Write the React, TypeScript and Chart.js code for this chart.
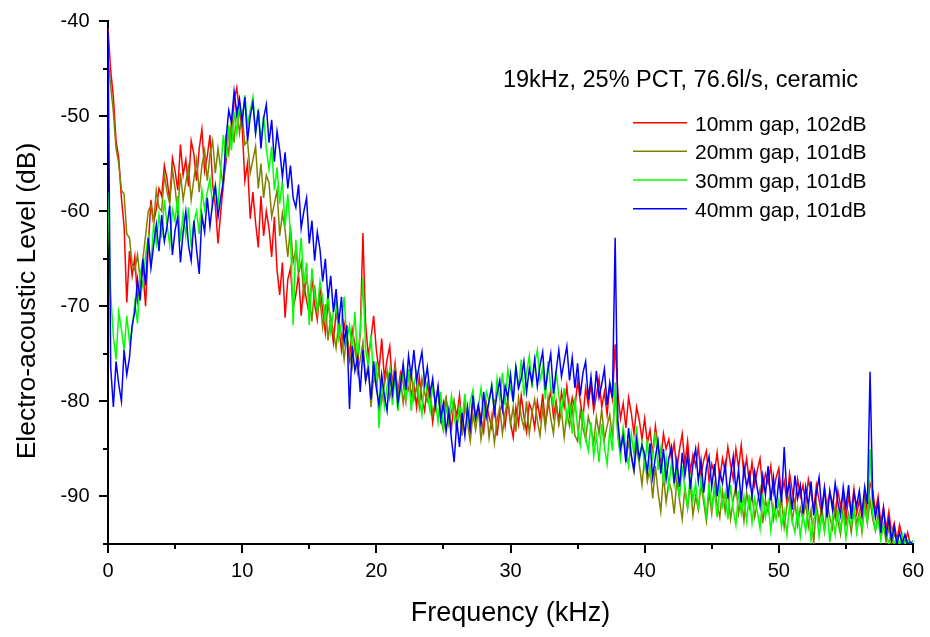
import React, { useEffect, useRef } from "react";
import { Chart, registerables } from "chart.js";

Chart.register(...registerables);

// Sample grid of the spectra (kHz): 0 … 60 kHz every 0.2 kHz
const FREQ_STEP_KHZ = 0.2;
const FREQ_POINTS = 301;
const FREQ_KHZ: number[] = Array.from({ length: FREQ_POINTS }, (_, i) => Math.round(i * FREQ_STEP_KHZ * 10) / 10);

// Tick values
const X_TICKS_KHZ = [0, 5, 10, 15, 20, 25, 30, 35, 40, 45, 50, 55, 60];
const Y_TICKS_DB = [-95, -90, -85, -80, -75, -70, -65, -60, -55, -50, -45, -40];

const ANNOTATION = "19kHz, 25% PCT, 76.6l/s, ceramic";
const X_TITLE = "Frequency (kHz)";
const Y_TITLE = "Electro-acoustic Level (dB)";

const LABELS = ["10mm gap, 102dB", "20mm gap, 101dB", "30mm gap, 101dB", "40mm gap, 101dB"];
const COLORS = ["#ff0000", "#808000", "#00ff00", "#0000ff"];

// Electro-acoustic level (dB), one value per FREQ_KHZ sample (10 values = 2 kHz per line)
const LEVEL_10MM = [
  -40.8, -45.2, -48.0, -52.6, -54.4, -58.6, -61.6, -69.6, -64.2, -66.8,
  -64.8, -69.4, -67.6, -66.0, -70.0, -63.8, -58.8, -61.2, -59.8, -57.6,
  -58.4, -55.2, -56.6, -59.0, -54.4, -55.8, -57.8, -53.0, -56.2, -54.6,
  -57.4, -52.6, -54.0, -56.8, -53.4, -51.4, -55.8, -54.2, -52.0, -57.2,
  -59.4, -63.4, -60.2, -57.0, -54.8, -51.4, -52.6, -48.4, -47.0, -49.6,
  -51.2, -56.8, -55.0, -60.8, -58.0, -61.2, -63.8, -58.4, -62.6, -60.0,
  -61.8, -64.8, -60.6, -66.2, -68.8, -65.4, -71.2, -67.2, -66.0, -70.2,
  -68.8, -66.6, -71.0, -67.6, -69.4, -70.8, -66.8, -69.8, -71.4, -68.0,
  -70.4, -72.8, -69.6, -71.6, -73.8, -70.6, -72.2, -74.6, -71.8, -73.4,
  -75.6, -72.4, -74.0, -76.2, -72.8, -62.3, -71.8, -75.2, -73.4, -71.0,
  -74.6, -76.8, -73.4, -77.6, -75.6, -74.2, -78.4, -76.0, -79.2, -77.0,
  -78.0, -80.0, -76.6, -79.4, -78.2, -80.6, -77.4, -79.8, -81.0, -78.2,
  -79.6, -82.2, -80.0, -78.6, -81.8, -83.0, -79.8, -81.2, -82.8, -80.0,
  -81.6, -79.4, -82.8, -80.6, -81.4, -83.4, -79.8, -82.0, -80.4, -81.8,
  -83.2, -80.2, -81.6, -82.8, -79.8, -83.6, -81.0, -80.4, -82.6, -80.0,
  -82.2, -83.8, -80.6, -82.4, -79.4, -81.6, -83.2, -80.2, -81.0, -82.8,
  -80.0, -81.8, -79.2, -82.4, -80.6, -78.8, -81.6, -80.0, -82.2, -79.0,
  -80.6, -78.4, -81.4, -79.6, -80.8, -77.8, -80.0, -81.8, -78.6, -80.4,
  -78.2, -81.0, -79.4, -77.6, -80.6, -79.0, -81.4, -78.4, -79.8, -74.0,
  -79.0, -81.8, -80.2, -82.8, -79.6, -81.2, -83.4, -80.6, -82.0, -84.0,
  -81.8, -84.4, -83.0, -85.6, -82.6, -84.8, -86.2, -83.4, -85.0, -84.0,
  -86.0, -84.4, -87.2, -85.0, -83.4, -86.6, -84.2, -87.4, -85.6, -86.8,
  -84.8, -87.8, -86.2, -85.2, -88.4, -86.6, -87.6, -85.4, -88.2, -86.0,
  -87.4, -84.8, -86.6, -88.2, -85.0, -87.0, -84.6, -87.8, -86.0, -88.6,
  -86.4, -88.8, -87.2, -86.0, -89.4, -87.6, -88.6, -86.8, -89.6, -88.0,
  -87.0, -89.8, -88.4, -90.6, -87.6, -89.4, -91.0, -88.2, -90.0, -88.8,
  -90.8, -88.2, -89.6, -91.4, -88.8, -90.4, -92.0, -89.0, -91.2, -89.6,
  -90.6, -92.2, -89.4, -91.0, -89.8, -92.4, -90.0, -91.6, -89.2, -91.8,
  -90.4, -92.2, -89.8, -91.6, -88.6, -89.4, -91.6, -90.0, -92.8, -91.2,
  -93.4, -91.6, -93.8, -92.8, -94.6, -93.0, -94.2, -95.0, -93.8, -95.0,
  -95.0,
];

const LEVEL_20MM = [
  -44.0, -46.8, -49.6, -53.4, -55.0, -57.8, -58.2, -62.4, -62.8, -65.6,
  -66.2, -64.6, -67.2, -65.0, -62.6, -60.0, -59.4, -61.2, -57.8, -59.6,
  -60.0, -56.2, -58.0, -59.2, -55.6, -57.6, -60.2, -56.0, -58.8, -57.0,
  -55.4, -58.8, -56.6, -54.6, -58.0, -55.2, -53.6, -56.8, -54.0, -52.6,
  -56.0, -53.4, -55.6, -57.4, -52.4, -54.0, -50.4, -52.8, -49.0, -51.8,
  -49.8, -53.0, -52.6, -56.0, -54.6, -53.2, -57.6, -55.0, -58.6, -56.2,
  -57.0, -60.6, -59.2, -57.8, -62.6, -60.2, -62.0, -64.8, -61.6, -65.4,
  -64.0, -66.6, -65.4, -69.0, -67.0, -68.8, -71.6, -67.8, -70.8, -69.2,
  -72.2, -69.8, -73.6, -71.0, -72.6, -74.4, -71.6, -73.0, -75.6, -72.8,
  -74.8, -76.4, -73.8, -77.0, -75.6, -73.8, -77.8, -76.0, -80.6, -77.4,
  -78.4, -76.6, -80.0, -78.2, -76.8, -79.6, -78.0, -76.4, -79.4, -77.6,
  -80.2, -78.0, -78.8, -76.8, -79.8, -78.4, -80.6, -77.6, -79.2, -80.0,
  -78.8, -81.4, -80.0, -78.8, -82.0, -80.6, -79.6, -82.4, -81.0, -80.0,
  -82.6, -81.0, -83.6, -80.2, -82.4, -84.2, -81.4, -83.0, -80.8, -84.0,
  -82.0, -80.4, -83.8, -81.6, -84.4, -82.0, -80.6, -83.4, -81.2, -79.8,
  -82.4, -80.6, -83.2, -79.6, -81.6, -82.8, -80.0, -83.4, -81.2, -79.8,
  -82.0, -83.6, -80.6, -82.8, -79.6, -81.8, -83.4, -80.4, -82.4, -81.0,
  -83.8, -81.2, -82.6, -80.6, -83.6, -84.2, -81.0, -82.8, -84.0, -81.6,
  -82.8, -84.4, -81.6, -83.4, -80.8, -84.0, -82.6, -81.4, -83.8, -79.0,
  -83.6, -85.6, -82.8, -86.2, -84.4, -85.8, -87.4, -84.8, -86.6, -88.8,
  -85.8, -88.4, -87.0, -90.2, -86.8, -89.6, -91.6, -87.8, -90.6, -88.4,
  -89.4, -91.8, -88.2, -90.4, -92.4, -89.0, -91.2, -88.6, -92.0, -90.0,
  -91.4, -88.8, -90.6, -92.6, -89.6, -91.8, -88.8, -90.8, -92.2, -89.4,
  -91.6, -89.2, -92.4, -90.4, -88.8, -91.8, -90.0, -92.6, -89.6, -91.2,
  -89.8, -92.2, -90.6, -89.2, -92.8, -90.4, -91.6, -89.6, -92.4, -90.8,
  -92.0, -90.2, -93.2, -91.0, -89.8, -92.6, -90.6, -93.0, -91.2, -92.4,
  -90.6, -93.2, -91.4, -95.0, -90.8, -92.8, -91.0, -93.6, -90.6, -92.2,
  -93.4, -91.0, -92.6, -94.0, -91.2, -93.0, -91.8, -93.8, -91.4, -92.8,
  -91.6, -93.8, -90.6, -92.8, -90.4, -92.4, -93.6, -91.8, -94.2, -93.0,
  -94.8, -93.2, -95.0, -94.0, -94.6, -95.0, -94.2, -95.0, -94.6, -95.0,
  -95.0,
];

const LEVEL_30MM = [
  -58.0, -68.6, -73.2, -75.6, -70.6, -72.4, -74.6, -71.0, -73.8, -72.4,
  -69.6, -71.8, -66.4, -68.0, -64.6, -62.8, -65.8, -61.4, -63.4, -60.4,
  -62.8, -58.8, -61.4, -63.6, -59.8, -61.0, -58.4, -63.2, -60.2, -62.6,
  -59.6, -63.8, -61.2, -60.0, -62.4, -57.8, -59.8, -58.0, -56.6, -59.4,
  -57.2, -59.6, -55.6, -52.0, -54.4, -51.0, -53.6, -49.6, -51.8, -48.8,
  -50.4, -47.8, -51.0, -49.4, -48.0, -51.8, -49.2, -52.6, -50.0, -53.4,
  -55.6, -53.2, -57.8, -55.4, -59.2, -56.8, -61.6, -58.2, -62.4, -72.0,
  -63.0, -66.2, -62.8, -67.6, -65.4, -72.0, -66.0, -68.8, -70.4, -67.4,
  -69.2, -71.6, -68.4, -72.6, -70.6, -69.4, -73.4, -71.8, -69.0, -73.6,
  -72.0, -74.6, -70.6, -75.4, -72.8, -67.0, -74.6, -76.4, -73.0, -77.8,
  -75.8, -82.8, -77.6, -80.6, -78.4, -76.6, -80.4, -77.2, -81.0, -78.6,
  -77.0, -80.0, -76.6, -81.0, -78.2, -77.0, -79.8, -81.4, -77.4, -79.2,
  -81.0, -78.4, -80.0, -82.2, -79.0, -83.2, -80.6, -82.0, -79.4, -81.8,
  -83.0, -80.4, -81.8, -79.2, -82.6, -80.0, -78.8, -82.0, -80.6, -78.6,
  -81.6, -79.0, -80.0, -78.2, -81.2, -77.6, -79.8, -77.0, -80.4, -76.6,
  -78.6, -80.0, -76.2, -78.8, -75.6, -79.4, -77.0, -75.2, -78.6, -76.0,
  -74.6, -77.8, -76.4, -79.8, -75.8, -78.6, -80.6, -76.8, -79.4, -81.2,
  -78.6, -82.0, -80.0, -83.4, -79.6, -82.8, -84.6, -81.0, -83.8, -85.2,
  -82.2, -85.8, -83.6, -86.4, -82.4, -84.8, -86.6, -83.0, -85.2, -78.0,
  -83.6, -86.0, -82.8, -85.0, -86.8, -83.4, -85.6, -82.6, -86.2, -84.4,
  -86.8, -84.0, -88.0, -85.6, -83.2, -87.2, -85.0, -88.6, -86.0, -89.0,
  -86.4, -88.8, -87.0, -90.2, -86.8, -89.4, -91.2, -87.6, -90.4, -88.6,
  -91.4, -88.2, -90.0, -92.0, -88.6, -91.2, -89.4, -92.2, -88.8, -91.0,
  -89.6, -92.4, -88.8, -91.4, -93.0, -89.4, -91.8, -90.0, -92.6, -89.8,
  -92.8, -90.2, -91.6, -93.4, -89.8, -92.2, -90.6, -93.6, -91.0, -92.4,
  -90.4, -93.2, -91.6, -94.0, -90.8, -92.6, -93.8, -91.2, -94.2, -92.0,
  -93.6, -91.0, -94.6, -92.4, -91.6, -94.2, -92.0, -93.6, -91.4, -94.8,
  -92.2, -94.0, -91.4, -93.4, -91.8, -94.4, -92.2, -93.0, -91.2, -93.8,
  -92.0, -93.4, -91.2, -92.8, -85.0, -91.8, -93.6, -92.4, -94.6, -93.0,
  -94.0, -95.0, -93.4, -95.0, -94.4, -95.0, -94.0, -95.0, -94.6, -95.0,
  -94.6,
];

const LEVEL_40MM = [
  -41.0, -76.4, -80.6, -75.8, -78.2, -80.0, -74.6, -77.2, -75.4, -72.0,
  -70.6, -67.2, -69.4, -65.0, -67.8, -62.8, -66.0, -63.6, -61.4, -64.2,
  -60.4, -63.2, -61.6, -59.4, -64.6, -62.0, -60.6, -65.4, -62.2, -60.0,
  -63.6, -65.2, -61.0, -64.0, -66.6, -60.4, -62.2, -58.6, -61.6, -59.0,
  -57.4, -60.6, -58.6, -56.8, -52.4, -49.4, -50.6, -47.4, -49.8, -48.2,
  -50.6, -48.0, -52.6, -50.0, -48.6, -51.8, -49.4, -53.4, -50.2, -48.8,
  -52.8, -50.4, -54.8, -51.6, -53.6, -56.4, -53.8, -57.6, -55.2, -58.6,
  -59.6, -57.2, -61.8, -60.0, -58.6, -63.4, -61.0, -65.2, -62.2, -64.0,
  -67.4, -65.0, -69.2, -66.8, -70.6, -68.2, -71.8, -69.0, -73.8, -72.0,
  -80.8, -74.2, -76.8, -75.4, -79.0, -74.6, -77.8, -76.6, -79.8, -75.8,
  -78.6, -80.4, -77.2, -79.4, -81.0, -77.0, -79.2, -76.8, -80.2, -78.4,
  -76.0, -78.8, -75.2, -77.4, -74.6, -77.8, -76.2, -74.8, -78.2, -76.4,
  -79.2, -77.6, -80.6, -78.4, -81.8, -80.2, -83.2, -81.0, -84.0, -86.4,
  -82.0, -84.8, -81.2, -83.6, -80.6, -82.8, -79.4, -81.8, -80.4, -82.4,
  -79.0, -81.6, -80.0, -78.4, -81.2, -79.2, -77.8, -80.8, -78.4, -79.6,
  -77.2, -80.0, -76.4, -78.6, -77.6, -75.8, -79.0, -76.6, -78.0, -75.6,
  -78.4, -76.2, -74.8, -78.8, -76.6, -75.0, -79.2, -76.8, -74.6, -77.4,
  -75.8, -74.2, -77.8, -75.4, -78.6, -76.0, -79.4, -77.0, -75.8, -79.8,
  -77.4, -80.4, -76.8, -79.6, -78.2, -76.6, -80.4, -78.0, -79.6, -62.8,
  -82.0, -85.0, -83.6, -86.4, -82.8, -85.6, -87.2, -84.0, -86.0, -84.6,
  -85.6, -87.4, -84.4, -88.0, -85.8, -84.2, -87.6, -85.0, -88.2, -86.0,
  -84.8, -88.6, -86.2, -89.0, -85.4, -87.8, -85.6, -89.2, -86.6, -85.0,
  -88.4, -86.2, -89.6, -87.0, -85.8, -89.0, -86.6, -90.0, -87.4, -88.6,
  -86.6, -90.2, -87.8, -85.8, -89.4, -87.2, -90.6, -86.8, -89.0, -87.6,
  -90.0, -87.4, -89.2, -91.0, -87.8, -89.8, -86.8, -90.4, -88.0, -91.2,
  -88.2, -90.6, -84.8, -89.8, -88.6, -91.4, -87.8, -90.2, -88.8, -91.8,
  -89.0, -91.0, -88.4, -92.0, -89.6, -88.0, -91.4, -89.2, -92.2, -89.4,
  -91.4, -88.6, -90.6, -92.0, -89.0, -91.2, -88.8, -92.4, -89.6, -91.0,
  -89.4, -91.8, -89.0, -90.8, -76.9, -90.2, -92.2, -90.6, -93.8, -91.2,
  -94.0, -92.4, -94.6, -93.2, -95.0, -93.8, -95.0, -94.0, -95.0, -94.8,
  -95.0,
];

const SERIES_VALUES = [LEVEL_10MM, LEVEL_20MM, LEVEL_30MM, LEVEL_40MM];

const FONT = "'Liberation Sans', Arial, Helvetica, sans-serif";

const overlayPlugin = {
  id: "overlay",
  afterDraw(chart: any) {
    const { ctx, scales } = chart;
    const xs = scales.x;
    const ys = scales.y;
    const left = chart.chartArea.left;
    const bottom = chart.chartArea.bottom;
    ctx.save();
    ctx.strokeStyle = "#000";
    ctx.lineWidth = 2;
    ctx.beginPath();
    for (const v of X_TICKS_KHZ) {
      const px = Math.round(xs.getPixelForValue(v));
      const len = v % 10 === 0 ? 9 : 5;
      ctx.moveTo(px, bottom);
      ctx.lineTo(px, bottom + len);
    }
    for (const v of Y_TICKS_DB) {
      const py = Math.round(ys.getPixelForValue(v));
      const len = v % 10 === 0 ? 9 : 5;
      ctx.moveTo(left, py);
      ctx.lineTo(left - len, py);
    }
    ctx.stroke();

    // Y axis title
    ctx.fillStyle = "#000";
    ctx.save();
    ctx.translate(34.5, 301);
    ctx.rotate(-Math.PI / 2);
    ctx.font = `26.5px ${FONT}`;
    ctx.textAlign = "center";
    ctx.textBaseline = "alphabetic";
    ctx.fillText(Y_TITLE, 0, 0);
    ctx.restore();

    // Annotation
    ctx.fillStyle = "#000";
    ctx.font = `23.5px ${FONT}`;
    ctx.textAlign = "center";
    ctx.textBaseline = "alphabetic";
    ctx.fillText(ANNOTATION, 680.5, 87);

    // Legend
    const rowBase = [130.7, 159.2, 188, 216.7];
    ctx.font = `21px ${FONT}`;
    ctx.textAlign = "left";
    for (let i = 0; i < LABELS.length; i++) {
      const yb = rowBase[i];
      ctx.beginPath();
      ctx.strokeStyle = COLORS[i];
      ctx.lineWidth = 1.5;
      ctx.moveTo(633, yb - 8);
      ctx.lineTo(687, yb - 8);
      ctx.stroke();
      ctx.fillStyle = "#000";
      ctx.fillText(LABELS[i], 695, yb);
    }
    ctx.restore();
  },
};

export default function App() {
  const canvasRef = useRef<HTMLCanvasElement | null>(null);

  useEffect(() => {
    const canvas = canvasRef.current;
    if (!canvas) return;
    const datasets = SERIES_VALUES.map((vals, i) => ({
      label: LABELS[i],
      data: FREQ_KHZ.map((f, j) => ({ x: f, y: vals[j] })),
      borderColor: COLORS[i],
      backgroundColor: COLORS[i],
      borderWidth: 1.5,
      pointRadius: 0,
      tension: 0,
      fill: false,
    })).reverse(); // Chart.js draws the first dataset on top: blue on top, red at the bottom

    const chart = new Chart(canvas, {
      type: "line",
      data: { datasets },
      options: {
        responsive: false,
        animation: false,
        devicePixelRatio: 1,
        layout: { padding: { top: 21, right: 17, left: 0, bottom: 0 } },
        plugins: {
          legend: { display: false },
          tooltip: { enabled: false },
          title: { display: false },
        },
        scales: {
          x: {
            type: "linear",
            min: 0,
            max: 60,
            grid: { display: false, drawTicks: false },
            border: { display: true, color: "#000", width: 2 },
            ticks: {
              stepSize: 5,
              autoSkip: false,
              maxRotation: 0,
              padding: 15,
              color: "#000",
              font: { family: FONT, size: 20 },
              callback: (v: any) => (Number(v) % 10 === 0 ? String(v) : ""),
            },
            title: {
              display: true,
              text: X_TITLE,
              color: "#000",
              font: { family: FONT, size: 27 },
              padding: { top: 4, bottom: 7 },
            },
            afterFit: (s: any) => {
              s.height = 93;
              s.paddingLeft = 0;
              s.paddingRight = 0;
            },
          },
          y: {
            type: "linear",
            min: -95,
            max: -40,
            grid: { display: false, drawTicks: false },
            border: { display: true, color: "#000", width: 2 },
            ticks: {
              stepSize: 5,
              autoSkip: false,
              padding: 18.5,
              color: "#000",
              font: { family: FONT, size: 20 },
              callback: (v: any) => (Number(v) % 10 === 0 ? String(v) : ""),
            },
            afterFit: (s: any) => {
              s.width = 108;
              s.paddingTop = 0;
              s.paddingBottom = 0;
            },
          },
        },
      },
      plugins: [overlayPlugin],
    });
    return () => chart.destroy();
  }, []);

  return (
    <div style={{ position: "absolute", left: 0, top: 0, width: 930, height: 637, background: "#fff" }}>
      <canvas ref={canvasRef} width={930} height={637} style={{ width: 930, height: 637, display: "block" }} />
    </div>
  );
}
